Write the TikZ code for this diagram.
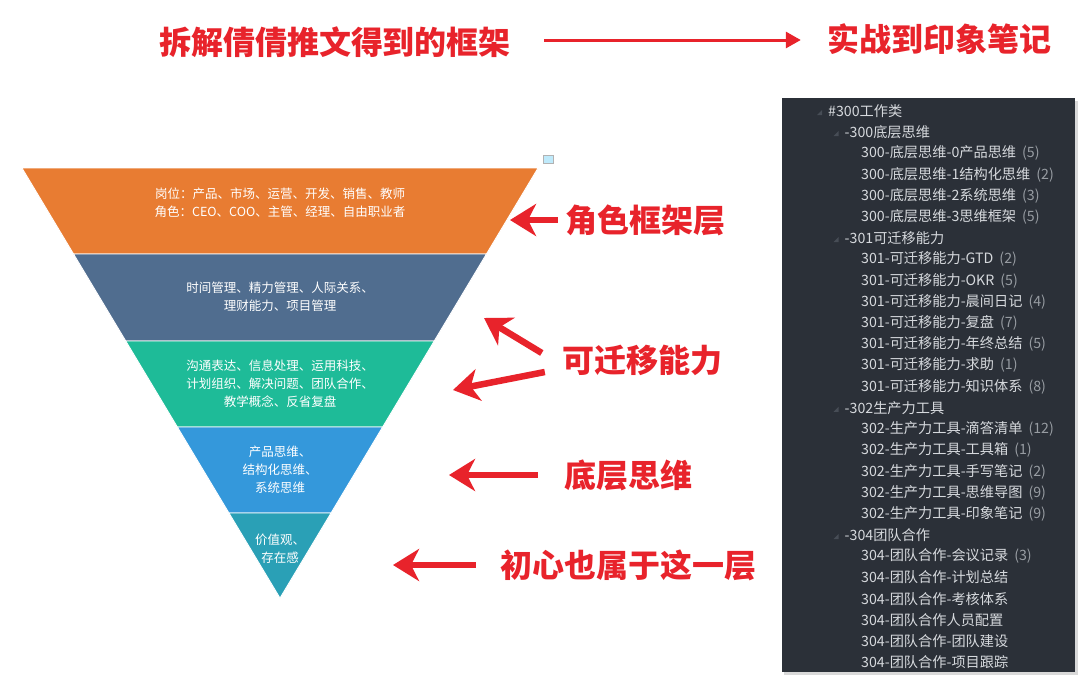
\documentclass[tikz,border=0pt]{standalone}
\usepackage{fontspec}
\setmainfont{Noto Sans CJK SC}
\usepackage{xcolor}
\usetikzlibrary{arrows.meta,positioning}

\definecolor{lyrOrange}{HTML}{E87C32}
\definecolor{lyrSlate}{HTML}{506D8F}
\definecolor{lyrGreen}{HTML}{1EBB98}
\definecolor{lyrBlue}{HTML}{3498DB}
\definecolor{lyrTeal}{HTML}{2AA0B6}
\definecolor{hotRed}{HTML}{E8232B}
\definecolor{panelBg}{HTML}{2B3038}
\definecolor{panelText}{HTML}{D6D9DD}
\definecolor{tallyGray}{HTML}{979CA2}
\definecolor{markGray}{HTML}{474D56}
\newcommand\tally[1]{\hspace{6pt}\textcolor{tallyGray}{(#1)}}

\begin{document}
\begin{tikzpicture}[
  x=1pt, y=-1pt,
  headline/.style={text=hotRed, font=\fontsize{32}{36}\selectfont\bfseries, inner sep=0},
  layertext/.style={text=white, align=center, font=\fontsize{12.5}{18}\selectfont, inner sep=0},
  redarrow/.style={hotRed, line width=6.5pt, -{Stealth[length=26pt,width=32pt,inset=8pt]}},
  toparrow/.style={hotRed, line width=3pt, -{Triangle[length=15pt,width=16pt]}},
  treeitem/.style={anchor=west, inner sep=0, text=panelText, font=\fontsize{14.2}{16}\selectfont}
]
\fill[white] (0,0) rectangle (1080,681);
\useasboundingbox (0,0) rectangle (1080,681);

% titles
\node[headline] (frameTitle) at (335,42) {拆解倩倩推文得到的框架};
\node[headline] (noteTitle) at (939,39) {实战到印象笔记};
\draw[toparrow] ([xshift=33pt]frameTitle.east |- 0,40) -- ([xshift=-26pt]noteTitle.west |- 0,40);

% funnel
\foreach \ya/\yb/\col in {168/254/lyrOrange, 254/341/lyrSlate, 341/427/lyrGreen, 427/513/lyrBlue, 513/598/lyrTeal}
  \filldraw[fill=\col, draw=white, line width=0.8pt]
    ({280-0.6*(598-\ya)},\ya) -- ({280+0.6*(598-\ya)},\ya) --
    ({280+0.6*(598-\yb)},\yb) -- ({280-0.6*(598-\yb)},\yb) -- cycle;
\filldraw[fill=cyan!25, draw=gray!60, line width=0.6pt] (543,155) rectangle (553,163);

\node[layertext] (roleTxt) at (280,203) {岗位：产品、市场、运营、开发、销售、教师\\角色：CEO、COO、主管、经理、自由职业者};
\node[layertext] (skillTxt) at (280,297) {时间管理、精力管理、人际关系、\\理财能力、项目管理};
\node[layertext] (abilityTxt) at (280,384) {沟通表达、信息处理、运用科技、\\计划组织、解决问题、团队合作、\\教学概念、反省复盘};
\node[layertext] (thinkTxt) at (280,470) {产品思维、\\结构化思维、\\系统思维};
\node[layertext] (valueTxt) at (280,549) {价值观、\\存在感};

% red labels and arrows
\node[headline] (lblRole) at (645,220) {角色框架层};
\node[headline] (lblSkill) at (642,360) {可迁移能力};
\node[headline] (lblBase) at (628,475) {底层思维};
\node[headline] (lblCore) at (628,565) {初心也属于这一层};

\coordinate (tipRole) at (510,220);
\coordinate (tipSkillA) at (484,318);
\coordinate (tipSkillB) at (453,390);
\coordinate (tipBase) at (449,475);
\coordinate (tipCore) at (393,565);

\draw[redarrow] ([xshift=-7pt]lblRole.west) -- (tipRole);
\draw[redarrow] ([shift={(-20,-7)}]lblSkill.west) -- (tipSkillA);
\draw[redarrow] ([shift={(-17,12)}]lblSkill.west) -- (tipSkillB);
\draw[redarrow] ([xshift=-26pt]lblBase.west) -- (tipBase);
\draw[redarrow] ([xshift=-24pt]lblCore.west) -- (tipCore);

% evernote tree panel
\fill[black!15] (784,101) rectangle (1078,675);
\fill[panelBg] (782,98) rectangle (1075,672);
\foreach \lvl/\txt [count=\i from 0] in {
  0/{\#300工作类},
  1/{-300底层思维},
  2/{300-底层思维-0产品思维\tally{5}},
  2/{300-底层思维-1结构化思维\tally{2}},
  2/{300-底层思维-2系统思维\tally{3}},
  2/{300-底层思维-3思维框架\tally{5}},
  1/{-301可迁移能力},
  2/{301-可迁移能力-GTD\tally{2}},
  2/{301-可迁移能力-OKR\tally{5}},
  2/{301-可迁移能力-晨间日记\tally{4}},
  2/{301-可迁移能力-复盘\tally{7}},
  2/{301-可迁移能力-年终总结\tally{5}},
  2/{301-可迁移能力-求助\tally{1}},
  2/{301-可迁移能力-知识体系\tally{8}},
  1/{-302生产力工具},
  2/{302-生产力工具-滴答清单\tally{12}},
  2/{302-生产力工具-工具箱\tally{1}},
  2/{302-生产力工具-手写笔记\tally{2}},
  2/{302-生产力工具-思维导图\tally{9}},
  2/{302-生产力工具-印象笔记\tally{9}},
  1/{-304团队合作},
  2/{304-团队合作-会议记录\tally{3}},
  2/{304-团队合作-计划总结},
  2/{304-团队合作-考核体系},
  2/{304-团队合作人员配置},
  2/{304-团队合作-团队建设},
  2/{304-团队合作-项目跟踪}} {
  \node[treeitem] (row\i) at ({828+16.5*\lvl},{111+21.2*\i}) {\txt};
  \ifnum\lvl<2
    \fill[markGray] ([shift={(-11,4)}]row\i.west) -- ++(5,0) -- ++(0,-5) -- cycle;
  \fi
}
\end{tikzpicture}
\end{document}
